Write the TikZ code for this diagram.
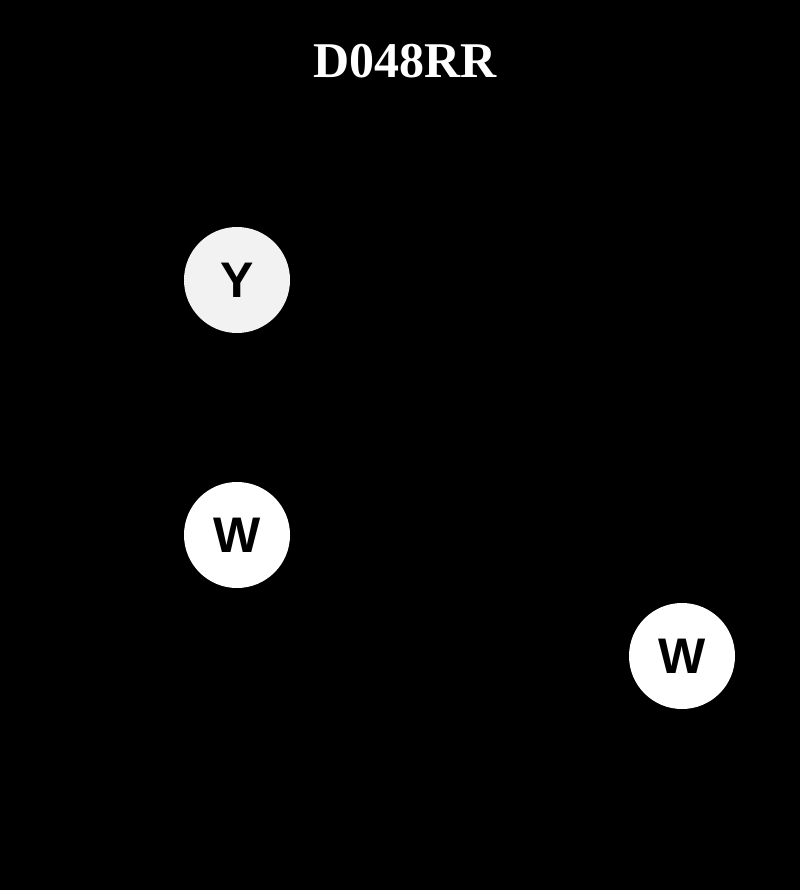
\documentclass[tikz,border=0pt]{standalone}
\usepackage{fontspec}
\setmainfont{Liberation Serif}
\newfontfamily\lettersans{Liberation Sans}
\begin{document}
\begin{tikzpicture}[x=1pt,y=-1pt,
  ball/.style={circle, minimum size=106pt, inner sep=0pt, fill=#1, draw=none,
    font=\lettersans\bfseries\fontsize{50}{50}\selectfont, text=black},
  ball/.default=white,
  titletext/.style={font=\bfseries\fontsize{50}{50}\selectfont, text=white, inner sep=0pt}]
\fill[black] (0,0) rectangle (800,890);
\useasboundingbox (0,0) rectangle (800,890);
\node[titletext] (title) at (405,61) {D048RR};
\node[ball={black!5}] (y) at (237,280) {\raisebox{-2pt}{Y}};
\node[ball] (w1) at (237,535) {\raisebox{-2pt}{W}};
\node[ball] (w2) at (682,656) {\raisebox{-2pt}{W}};
\end{tikzpicture}
\end{document}
